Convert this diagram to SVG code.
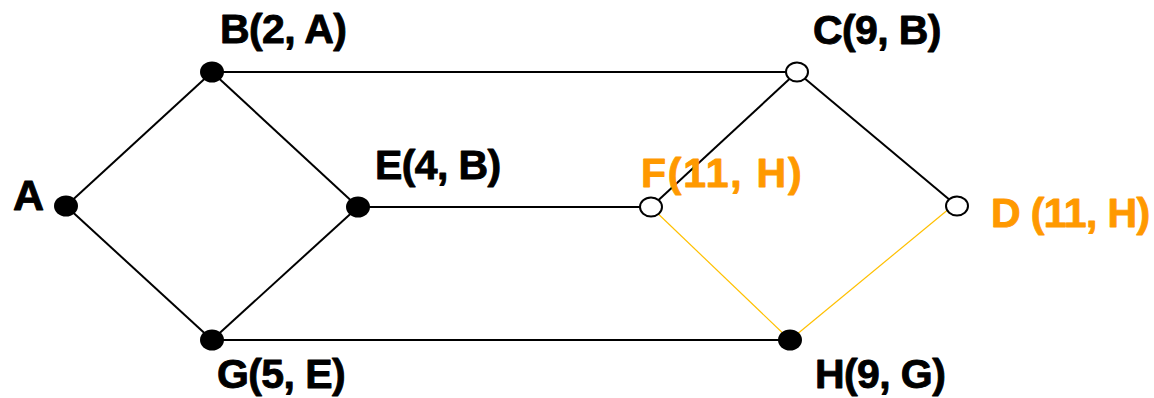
<svg xmlns="http://www.w3.org/2000/svg" width="1154" height="398" viewBox="0 0 1154 398">
  <style>
    .edge { stroke: #000; stroke-width: 2; fill: none; }
    .edge-hl { stroke: #FFC000; stroke-width: 1.2; fill: none; }
    .done { fill: #000; }
    .open { fill: #fff; stroke: #000; stroke-width: 2; }
    .lbl { font-family: "Liberation Sans", Arial, sans-serif; font-weight: bold; font-size: 41px; letter-spacing: -0.6px; fill: #000; stroke: #000; stroke-width: 0.9; stroke-linejoin: round; }
    .lbl-hl { fill: #FF9900; stroke: #FF9900; }
  </style>
  <rect width="1154" height="398" fill="#fff"/>

  <!-- edges -->
  <g id="connectors">
    <line class="edge" x1="66" y1="206" x2="212" y2="72"/>
    <line class="edge" x1="66" y1="206" x2="212" y2="340"/>
    <line class="edge" x1="212" y1="72" x2="358" y2="207"/>
    <line class="edge" x1="212" y1="340" x2="358" y2="207"/>
    <line class="edge" x1="212" y1="72" x2="797" y2="72"/>
    <line class="edge" x1="358" y1="207" x2="651" y2="207"/>
    <line class="edge" x1="212" y1="340" x2="790" y2="340"/>
    <line class="edge" x1="797" y1="72" x2="651" y2="207"/>
    <line class="edge" x1="797" y1="72" x2="957" y2="206"/>
    <line class="edge-hl" x1="651" y1="207" x2="790" y2="340"/>
    <line class="edge-hl" x1="950" y1="208" x2="790" y2="340"/>
  </g>

  <!-- vertices -->
  <g id="node-A">
    <ellipse class="done" cx="66" cy="206" rx="12" ry="10.5"/>
    <text class="lbl" x="13" y="210" style="font-size:43px">A</text>
  </g>
  <g id="node-B">
    <ellipse class="done" cx="212" cy="72" rx="12" ry="10.5"/>
    <text class="lbl" x="220" y="43">B(2, A)</text>
  </g>
  <g id="node-E">
    <ellipse class="done" cx="358" cy="207" rx="12" ry="10.5"/>
    <text class="lbl" x="375" y="179">E(4, B)</text>
  </g>
  <g id="node-G">
    <ellipse class="done" cx="212" cy="340" rx="12" ry="10.5"/>
    <text class="lbl" x="217" y="388">G(5, E)</text>
  </g>
  <g id="node-C">
    <ellipse class="open" cx="797" cy="72" rx="11" ry="9.5"/>
    <text class="lbl" x="813" y="44">C(9, B)</text>
  </g>
  <g id="node-F">
    <ellipse class="open" cx="651" cy="207" rx="11" ry="9.5"/>
    <text class="lbl lbl-hl" x="641" y="187" style="letter-spacing:1.8px">F(11, H)</text>
  </g>
  <g id="node-D">
    <ellipse class="open" cx="957" cy="206" rx="11" ry="9.5"/>
    <text class="lbl lbl-hl" x="991" y="227">D (11, H)</text>
  </g>
  <g id="node-H">
    <ellipse class="done" cx="790" cy="340" rx="12" ry="10.5"/>
    <text class="lbl" x="815" y="388">H(9, G)</text>
  </g>
</svg>
